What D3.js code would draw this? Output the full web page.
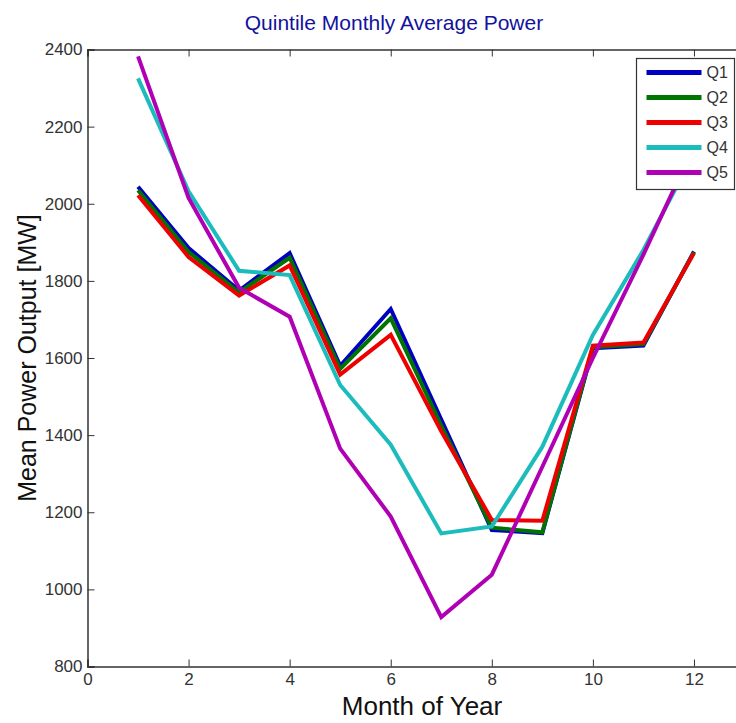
<!DOCTYPE html>
<html>
<head>
<meta charset="utf-8">
<script src="https://cdn.jsdelivr.net/npm/d3@7"></script>
<style>
  html, body { margin: 0; padding: 0; background: #fff; }
  svg { display: block; }
  .tick text { font-family: "Liberation Sans Narrow", "Liberation Sans", Arial, sans-serif; }
</style>
</head>
<body>
<div id="chart"></div>
<script>
// Monthly mean power output for each quintile
const months = [1, 2, 3, 4, 5, 6, 7, 8, 9, 10, 11, 12];
const q1 = [2044, 1885, 1775, 1872, 1580, 1727, 1440, 1154, 1146, 1625, 1632, 1876];
const q2 = [2035, 1875, 1770, 1860, 1572, 1703, 1425, 1160, 1148, 1628, 1636, 1874];
const q3 = [2022, 1862, 1762, 1840, 1557, 1660, 1410, 1180, 1178, 1632, 1640, 1872];
const q4 = [2325, 2032, 1826, 1815, 1530, 1375, 1145, 1163, 1370, 1660, 1880, 2130];
const q5 = [2382, 2015, 1782, 1707, 1365, 1189, 928, 1038, 1318, 1600, 1868, 2150];

const seriesNames = ["Q1", "Q2", "Q3", "Q4", "Q5"];
const seriesValues = [q1, q2, q3, q4, q5];
const seriesColors = ["#0000c0", "#007400", "#ee0000", "#1cbcbc", "#b000b4"];

const xTicks = [0, 2, 4, 6, 8, 10, 12];
const yTicks = [800, 1000, 1200, 1400, 1600, 1800, 2000, 2200, 2400];

const W = 736, H = 723;
const plotLeft = 87.5, plotTop = 49.5, plotBottom = 666.5, plotRight = 744.5;

const svg = d3.select("#chart").append("svg")
  .attr("width", W).attr("height", H);

const x = d3.scaleLinear().domain([0, 13]).range([plotLeft, plotRight]);
const y = d3.scaleLinear().domain([800, 2400]).range([plotBottom, plotTop]);

const axisColor = "#333";
const tickLen = 7;

// Axes: ticks point inward, box on all sides
const gx = svg.append("g").attr("transform", `translate(0,${plotBottom})`)
  .call(d3.axisBottom(x).tickValues(xTicks).tickSize(-tickLen).tickPadding(6).tickFormat(d3.format("d")));
const gxTop = svg.append("g").attr("transform", `translate(0,${plotTop})`)
  .call(d3.axisTop(x).tickValues(xTicks).tickSize(-tickLen).tickFormat(""));
const gy = svg.append("g").attr("transform", `translate(${plotLeft},0)`)
  .call(d3.axisLeft(y).tickValues(yTicks).tickSize(-tickLen).tickPadding(5).tickFormat(d3.format("d")));
const gyRight = svg.append("g").attr("transform", `translate(${plotRight},0)`)
  .call(d3.axisRight(y).tickValues(yTicks).tickSize(-tickLen).tickFormat(""));

[gx, gxTop, gy, gyRight].forEach(g => {
  g.select(".domain").attr("stroke", axisColor).attr("stroke-width", 1.5);
  g.selectAll(".tick line").attr("stroke", axisColor).attr("stroke-width", 1);
  g.selectAll(".tick text").attr("fill", "#333").style("font-size", "17px");
});

// Series lines
const line = d3.line()
  .x((d, i) => x(months[i]))
  .y(d => y(d));

seriesValues.forEach((vals, k) => {
  svg.append("path")
    .datum(vals)
    .attr("fill", "none")
    .attr("stroke", seriesColors[k])
    .attr("stroke-width", 4)
    .attr("stroke-linejoin", "miter")
    .attr("d", line);
});

// Title and axis labels
svg.append("text")
  .attr("x", 394).attr("y", 30)
  .attr("text-anchor", "middle")
  .attr("fill", "#12129e")
  .style("font-family", "Liberation Sans, Arial, sans-serif")
  .style("font-size", "21px")
  .text("Quintile Monthly Average Power");

svg.append("text")
  .attr("x", 422).attr("y", 715)
  .attr("text-anchor", "middle")
  .attr("fill", "#111")
  .style("font-family", "Liberation Sans, Arial, sans-serif")
  .style("font-size", "26px")
  .text("Month of Year");

svg.append("text")
  .attr("transform", `translate(36,${(plotTop + plotBottom) / 2}) rotate(-90)`)
  .attr("text-anchor", "middle")
  .attr("fill", "#111")
  .style("font-family", "Liberation Sans, Arial, sans-serif")
  .style("font-size", "25px")
  .text("Mean Power Output [MW]");

// Legend
const legX = 636.5, legY = 58.5, legW = 98, legH = 131;
const legend = svg.append("g");
legend.append("rect")
  .attr("x", legX).attr("y", legY).attr("width", legW).attr("height", legH)
  .attr("fill", "#fff").attr("stroke", "#333").attr("stroke-width", 1.2);

const legScale = d3.scalePoint().domain(seriesNames).range([legY + 14, legY + 114]);
seriesNames.forEach((name, k) => {
  const cy = legScale(name);
  legend.append("line")
    .attr("x1", legX + 10).attr("x2", legX + 65)
    .attr("y1", cy).attr("y2", cy)
    .attr("stroke", seriesColors[k]).attr("stroke-width", 5);
  legend.append("text")
    .attr("x", legX + 70).attr("y", cy + 5.5)
    .attr("fill", "#333")
    .style("font-family", "Liberation Sans Narrow, Liberation Sans, Arial, sans-serif")
    .style("font-size", "16px")
    .text(name);
});
</script>
</body>
</html>
